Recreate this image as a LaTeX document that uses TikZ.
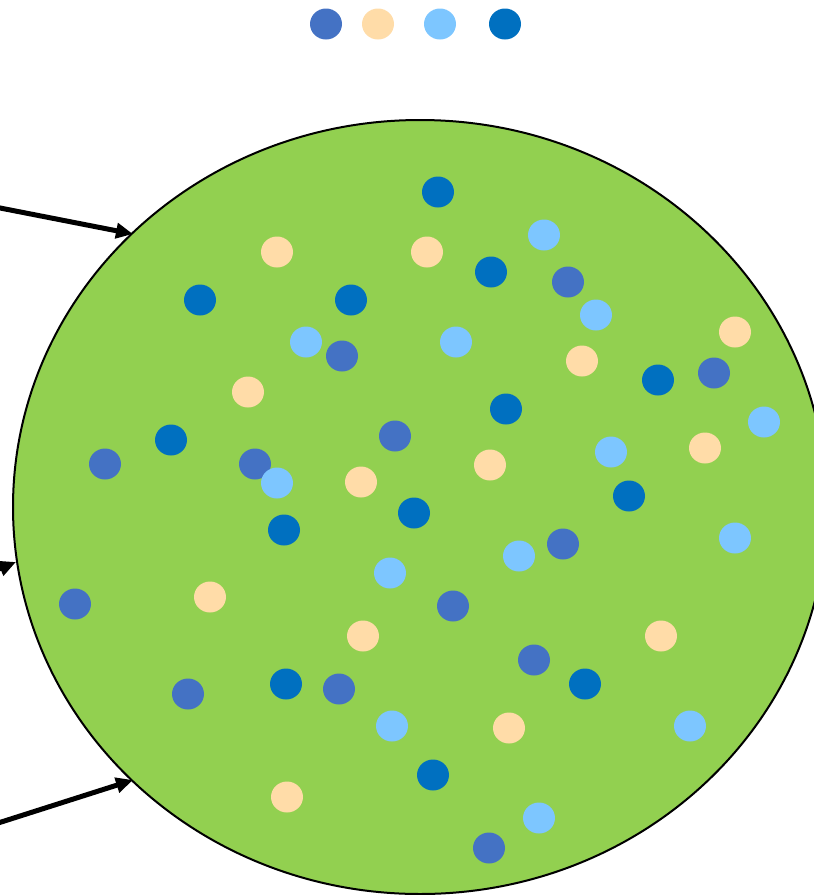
\documentclass[tikz,border=0pt]{standalone}
\usetikzlibrary{arrows.meta,shapes.geometric}
\definecolor{cgreen}{HTML}{92D050}
\definecolor{cdark}{HTML}{0070C0}
\definecolor{cmed}{HTML}{4472C4}
\definecolor{cpeach}{HTML}{FFDCA8}
\definecolor{clight}{HTML}{7DC6FF}
\tikzset{
  dotD/.style={fill=cdark},
  dotM/.style={fill=cmed},
  dotP/.style={fill=cpeach},
  dotL/.style={fill=clight},
  feed/.style={line width=5pt,-{Triangle[length=17pt,width=15pt]}},
}
\begin{document}
\begin{tikzpicture}[x=1pt,y=-1pt]
\useasboundingbox (0,0) rectangle (814,895);
\begin{scope}
\clip (0,0) rectangle (814,895);
\node[draw=black,line width=2pt,fill=cgreen,ellipse,minimum width=814pt,minimum height=774pt,inner sep=0pt] (cell) at (420,507) {};
% legend
\foreach \x/\c in {326/cmed,378/cpeach,440/clight,505/cdark}
  \fill[\c] (\x,24) ellipse (16pt and 15.5pt);
% dots
\foreach \x/\y in {438/192,200/300,351/300,491/272,658/380,506/409,171/440,629/496,414/513,284/530,585/684,286/684,433/775}
  \fill[dotD] (\x,\y) ellipse (16pt and 15.5pt);
\foreach \x/\y in {568/282,342/356,714/373,395/436,105/464,255/464,563/544,75/604,453/606,534/660,188/694,339/689,489/848}
  \fill[dotM] (\x,\y) ellipse (16pt and 15.5pt);
\foreach \x/\y in {277/252,427/252,735/332,582/361,248/392,705/448,490/465,361/482,210/597,363/636,661/636,509/728,287/797}
  \fill[dotP] (\x,\y) ellipse (16pt and 15.5pt);
\foreach \x/\y in {544/235,596/315,306/342,456/342,764/422,611/452,277/483,735/538,519/556,390/573,392/726,690/726,539/818}
  \fill[dotL] (\x,\y) ellipse (16pt and 15.5pt);
% arrows
\coordinate (s1) at (-5,207);
\coordinate (t1) at (133,234);
\coordinate (s2) at (-40,585);
\coordinate (t2) at (16,562);
\coordinate (s3) at (-5,824);
\coordinate (t3) at (133,780);
\draw[feed] (s1) -- (t1);
\draw[feed] (s2) -- (t2);
\draw[feed] (s3) -- (t3);
\end{scope}
\end{tikzpicture}
\end{document}
